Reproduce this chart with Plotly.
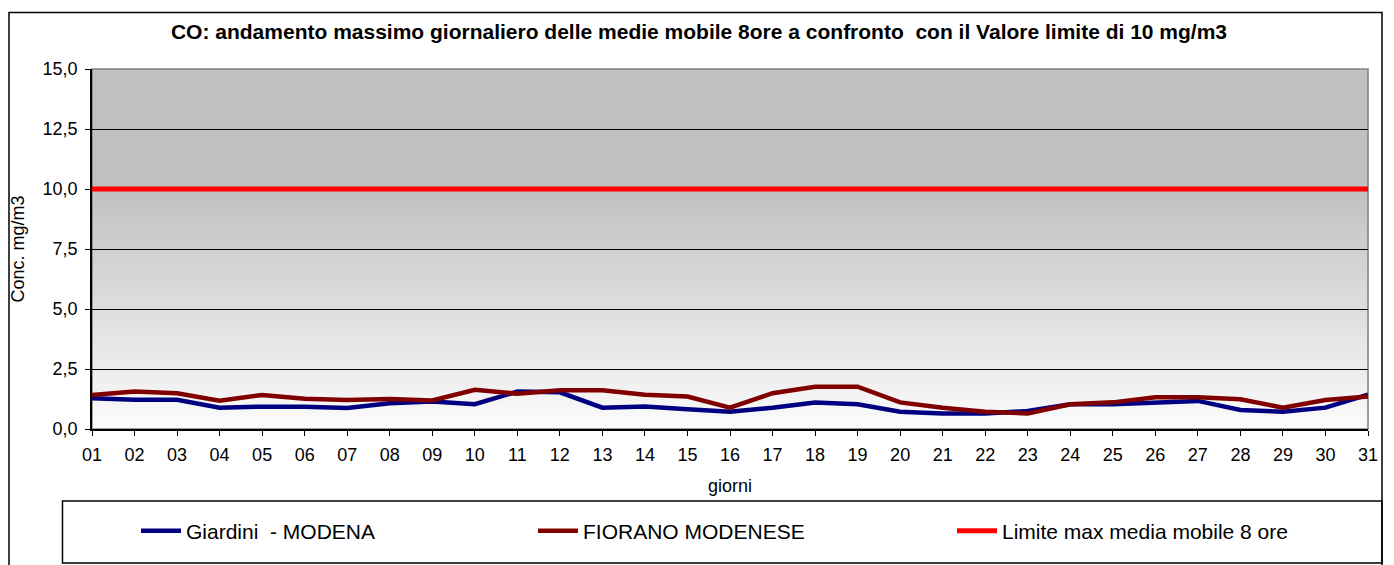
import plotly.graph_objects as go

# days of the month
giorni = ["%02d" % d for d in range(1, 32)]

giardini_modena = [1.28, 1.22, 1.22, 0.89, 0.93, 0.93, 0.88, 1.07, 1.15, 1.03,
                   1.56, 1.53, 0.89, 0.94, 0.82, 0.72, 0.89, 1.10, 1.03, 0.72,
                   0.65, 0.65, 0.75, 1.03, 1.03, 1.11, 1.17, 0.79, 0.72, 0.89, 1.43]

fiorano_modenese = [1.42, 1.56, 1.49, 1.18, 1.42, 1.26, 1.21, 1.25, 1.19, 1.63,
                    1.47, 1.61, 1.61, 1.43, 1.35, 0.89, 1.49, 1.76, 1.76, 1.11,
                    0.89, 0.72, 0.65, 1.03, 1.11, 1.32, 1.32, 1.24, 0.89, 1.21, 1.35]

valore_limite = [10.0] * 31

# the page body adds an 8px margin, so the figure is drawn a bit smaller
OFF = 8
W, H = 1394 - OFF, 565 - OFF
L, R, T, B = 92 - OFF, 26, 69 - OFF, 136
PW, PH = W - L - R, H - T - B


# page pixel -> paper coords
def px(x):
    return (x - 92) / PW


def py(y):
    return (429 - y) / PH


FONT = "Liberation Sans, Arial, sans-serif"

fig = go.Figure()
fig.add_trace(go.Scatter(x=giorni, y=giardini_modena, mode="lines", name="Giardini  - MODENA",
                         line=dict(color="#000080", width=4.5), legend="legend"))
fig.add_trace(go.Scatter(x=giorni, y=fiorano_modenese, mode="lines", name="FIORANO MODENESE",
                         line=dict(color="#800000", width=4.5), legend="legend2"))
fig.add_trace(go.Scatter(x=giorni, y=valore_limite, mode="lines", name="Limite max media mobile 8 ore",
                         line=dict(color="#ff0000", width=5), legend="legend3"))

# gradient background of the plot area (grey on top fading to white)
shapes = []
shapes.append(dict(type="rect", xref="x domain", yref="y", x0=0, x1=1, y0=12.5, y1=15,
                   fillcolor="#c0c0c0", line_width=0, layer="below"))
n = 100
for i in range(n):
    y0 = i * 12.5 / n
    f = min(1.0, y0 / 10.0)
    c = int(round(0xfb - (0xfb - 0xc0) * f))
    shapes.append(dict(type="rect", xref="x domain", yref="y", x0=0, x1=1,
                       y0=y0, y1=y0 + 12.5 / n + 0.01,
                       fillcolor="rgb(%d,%d,%d)" % (c, c, c), line_width=0, layer="below"))
# plot border top/right
shapes.append(dict(type="rect", xref="x domain", yref="y domain", x0=0, x1=1, y0=0, y1=1,
                   line=dict(color="#808080", width=1.5), layer="below"))
# outer chart frame
shapes.append(dict(type="rect", xref="paper", yref="paper", x0=px(OFF + 1), x1=px(1382),
                   y0=py(575), y1=py(12.5), line=dict(color="#000000", width=1.5)))
# legend box
shapes.append(dict(type="rect", xref="paper", yref="paper", x0=px(62.5), x1=px(1382),
                   y0=py(563), y1=py(501), line=dict(color="#000000", width=1.5)))

leg = dict(orientation="h", yanchor="middle", xanchor="left", bgcolor="rgba(0,0,0,0)",
           font=dict(family=FONT, size=21, color="#000000"), itemwidth=40)

fig.update_layout(
    width=W, height=H,
    margin=dict(l=L, r=R, t=T, b=B),
    paper_bgcolor="#ffffff",
    plot_bgcolor="rgba(0,0,0,0)",
    separators=",.",
    showlegend=True,
    font=dict(family=FONT, size=18, color="#000000"),
    title=dict(text="<b>CO: andamento massimo giornaliero delle medie mobile 8ore a confronto  con il Valore limite di 10 mg/m3</b>",
               x=(699 - OFF) / W, xref="container", xanchor="center",
               y=1 - (32 - OFF) / H, yanchor="middle",
               font=dict(family=FONT, size=21, color="#000000")),
    xaxis=dict(type="category", range=[0, 30], showgrid=False,
               showline=True, linecolor="#000000", linewidth=1.5,
               ticks="outside", ticklen=5, tickcolor="#000000",
               tickfont=dict(size=18), automargin=False, ticklabelstandoff=4,
               title=dict(text="giorni", font=dict(size=18), standoff=15)),
    yaxis=dict(range=[0, 15], tickvals=[0, 2.5, 5, 7.5, 10, 12.5, 15], tickformat=".1f",
               showgrid=True, gridcolor="#000000", gridwidth=1,
               showline=True, linecolor="#000000", linewidth=1.5, zeroline=False,
               ticks="outside", ticklen=5, tickcolor="#000000",
               tickfont=dict(size=18), automargin=False, ticklabelstandoff=4,
               title=dict(text="Conc. mg/m3", font=dict(size=18), standoff=16)),
    shapes=shapes,
    legend=dict(leg, x=px(136), y=py(531)),
    legend2=dict(leg, x=px(533), y=py(531)),
    legend3=dict(leg, x=px(952), y=py(531)),
)

fig.write_html("out.html")
